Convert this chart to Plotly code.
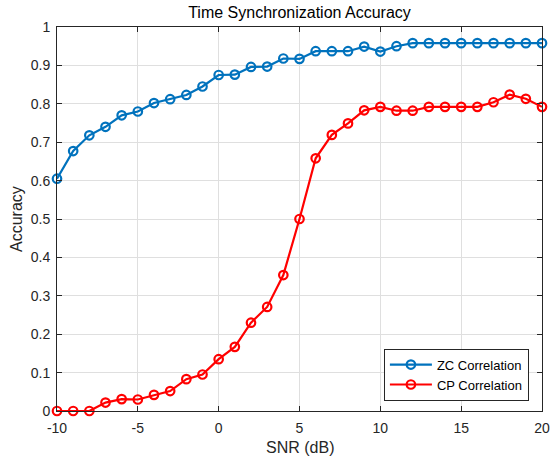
import plotly.graph_objects as go

snr = list(range(-10, 21))
zc = [0.605, 0.677, 0.718, 0.740, 0.770, 0.780, 0.802, 0.812, 0.823, 0.845,
      0.875, 0.876, 0.896, 0.897, 0.918, 0.917, 0.937, 0.937, 0.937, 0.949,
      0.936, 0.950, 0.958, 0.958, 0.958, 0.958, 0.958, 0.958, 0.958, 0.958, 0.958]
cp = [0.0, 0.0, 0.0, 0.022, 0.031, 0.030, 0.042, 0.052, 0.083, 0.095,
      0.135, 0.167, 0.230, 0.271, 0.354, 0.500, 0.658, 0.719, 0.749, 0.783,
      0.792, 0.782, 0.782, 0.792, 0.792, 0.792, 0.792, 0.804, 0.824, 0.813, 0.792]
names = ["ZC Correlation", "CP Correlation"]
colors = ["#0072BD", "#FF0000"]
x_ticks = [-10, -5, 0, 5, 10, 15, 20]
x_ticktext = ["-10", "-5", "0", "5", "10", "15", "20"]
y_ticks = [i / 10 for i in range(11)]
y_ticktext = ["0", "0.1", "0.2", "0.3", "0.4", "0.5", "0.6", "0.7", "0.8", "0.9", "1"]

FONT = "Liberation Sans, Arial, sans-serif"

fig = go.Figure()
for y, n, c in zip([zc, cp], names, colors):
    fig.add_trace(go.Scatter(
        x=snr, y=y, name=n, mode="lines+markers", cliponaxis=False,
        line=dict(color=c, width=2.2),
        marker=dict(symbol="circle-open", size=8.5, color=c, line=dict(width=2.2, color=c)),
    ))

axis_common = dict(
    showgrid=True, gridcolor="#DFDFDF", gridwidth=1,
    showline=True, linecolor="#262626", linewidth=1, mirror="ticks",
    ticks="inside", ticklen=5, tickcolor="#262626",
    tickfont=dict(family=FONT, size=14, color="#262626"),
    zeroline=False, automargin=False,
)
fig.update_layout(
    width=552, height=463,
    margin=dict(l=57, r=10, t=27, b=52),
    paper_bgcolor="white", plot_bgcolor="white",
    title=dict(text="Time Synchronization Accuracy", x=(57 + 542) / 2 / 552, xanchor="center",
               y=1 - 12 / 463, yanchor="middle",
               font=dict(family=FONT, size=16, color="#000000")),
    xaxis=dict(range=[-10, 20], tickvals=x_ticks, ticktext=x_ticktext,
               ticklabelstandoff=4, **axis_common),
    yaxis=dict(range=[0, 1], tickvals=y_ticks, ticktext=y_ticktext,
               ticklabelstandoff=3, **axis_common),
    legend=dict(x=0.973, y=0.027, xanchor="right", yanchor="bottom",
                bgcolor="white", bordercolor="#262626", borderwidth=1,
                font=dict(family=FONT, size=13, color="#000000"),
                tracegroupgap=0, itemwidth=42),
    showlegend=True,
    annotations=[
        dict(text="SNR (dB)", xref="paper", yref="paper", x=0.5, y=(411 - 447.5) / 384,
             xanchor="center", yanchor="middle", showarrow=False,
             font=dict(family=FONT, size=16, color="#262626")),
        dict(text="Accuracy", xref="paper", yref="paper", x=(16 - 57) / 485, y=0.5,
             xanchor="center", yanchor="middle", showarrow=False, textangle=-90,
             font=dict(family=FONT, size=16, color="#262626")),
    ],
)
fig.write_html("out.html", config={"displayModeBar": False},
               post_script="document.body.style.margin='0';")
